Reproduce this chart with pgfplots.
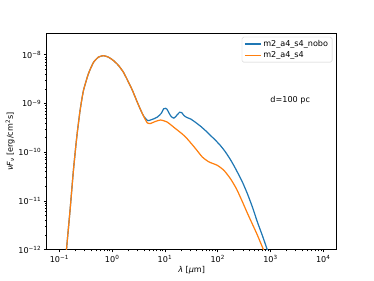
\documentclass[border=0pt]{standalone}
\usepackage{fontspec}
\setmainfont{DejaVu Sans}
\usepackage{pgfplots}
\pgfplotsset{compat=1.18}
\definecolor{mplblue}{HTML}{1F77B4}
\definecolor{mplorange}{HTML}{FF7F0E}
\begin{document}
\fontsize{10}{12}\selectfont
\begin{tikzpicture}
\begin{axis}[
  at={(0,0)}, anchor=south west,
  scale only axis, width=4.96in, height=3.696in,
  xmode=log, ymode=log,
  xmin=0.0577, xmax=17950,
  ymin=1e-12, ymax=2.7e-8,
  axis line style={line width=0.8pt},
  tick align=outside, tick pos=left,
  major tick length=3.5pt, minor tick length=2pt,
  every tick/.style={black, line width=0.8pt},
  minor tick style={line width=0.6pt},
  xtick={0.1,1,10,100,1000,10000},
  xticklabels={10\textsuperscript{−1},10\textsuperscript{0},10\textsuperscript{1},10\textsuperscript{2},10\textsuperscript{3},10\textsuperscript{4}},
  ytick={1e-12,1e-11,1e-10,1e-9,1e-8},
  yticklabels={10\textsuperscript{−12},10\textsuperscript{−11},10\textsuperscript{−10},10\textsuperscript{−9},10\textsuperscript{−8}},
  ticklabel style={font=\fontsize{10}{12}\selectfont},
  xlabel={\textit{λ} [\textit{μ}m]},
  ylabel={\textit{νF}\textsubscript{\textit{ν}} [erg/cm\textsuperscript{2}s]},
  label style={font=\fontsize{10}{12}\selectfont},
  xlabel style={yshift=2pt},
  ylabel style={yshift=-2pt},
  legend style={at={(0.985,0.985)}, anchor=north east, draw=black!20, rounded corners=2pt,
    font=\fontsize{10}{12}\selectfont, inner xsep=3pt, inner ysep=2pt, row sep=1pt},
  legend cell align=left,
  legend image code/.code={\draw[#1, line width=1.5pt] (0cm,0cm) -- (0.7cm,0cm);},
  clip=true,
]
\addplot[mplblue, line width=1.5pt, smooth, tension=0.35] coordinates {
(0.1318,5.0e-13) (0.1365,1.0e-12) (0.1596,6.46e-12) (0.1849,4.27e-11) (0.2138,2.04e-10)
(0.2466,7.08e-10) (0.2858,1.82e-9) (0.3556,4.07e-9) (0.4426,6.92e-9) (0.5495,8.91e-9)
(0.684,9.55e-9) (0.851,8.91e-9) (1.059,7.59e-9) (1.318,6.03e-9) (1.637,4.37e-9)
(1.995,2.88e-9) (2.399,1.905e-9) (3.013,1.047e-9) (3.631,6.61e-10) (4.018,5.37e-10)
(4.656,4.47e-10) (5.012,4.47e-10) (6.026,4.79e-10) (7.211,5.25e-10) (8.590,6.31e-10)
(9.441,7.76e-10) (10.35,7.94e-10) (10.96,7.59e-10) (12.02,6.31e-10) (13.18,5.37e-10)
(14.79,5.0e-10) (16.60,5.62e-10) (19.05,6.61e-10) (20.89,6.46e-10) (23.01,5.62e-10)
(26.30,5.13e-10) (30.83,4.79e-10) (38.28,4.07e-10) (47.64,3.39e-10) (59.29,2.75e-10)
(73.6,2.19e-10) (91.6,1.74e-10) (114.0,1.35e-10) (141.3,1.0e-10) (176.2,6.92e-11)
(218.8,4.57e-11) (293.8,2.45e-11) (365.6,1.41e-11) (457.1,7.41e-12) (564.9,3.72e-12)
(707.9,1.91e-12) (871,1.0e-12) (955,7.4e-13)
};
\addlegendentry{m2\_a4\_s4\_nobo}
\addplot[mplorange, line width=1.5pt, smooth, tension=0.35] coordinates {
(0.1318,5.0e-13) (0.1365,1.0e-12) (0.1596,6.46e-12) (0.1849,4.27e-11) (0.2138,2.04e-10)
(0.2466,7.08e-10) (0.2858,1.82e-9) (0.3556,4.07e-9) (0.4426,6.92e-9) (0.5495,8.91e-9)
(0.684,9.55e-9) (0.851,8.91e-9) (1.059,7.59e-9) (1.318,6.03e-9) (1.637,4.37e-9)
(1.995,2.88e-9) (2.399,1.905e-9) (3.013,1.047e-9) (3.631,6.61e-10) (4.018,5.25e-10)
(4.656,3.98e-10) (5.383,3.89e-10) (6.607,4.27e-10) (8.318,4.57e-10) (11.14,4.12e-10)
(16.03,3.02e-10) (19.95,2.51e-10) (24.77,2.04e-10) (30.90,1.55e-10) (38.28,1.175e-10)
(51.29,7.94e-11) (68.39,6.31e-11) (98.6,5.37e-11) (131.8,4.22e-11) (176.2,2.82e-11)
(229.1,1.74e-11) (295.1,9.55e-12) (365.6,5.62e-12) (457.1,3.31e-12) (564.9,2.0e-12)
(645.7,1.41e-12) (724.4,1.05e-12) (794,7.9e-13)
};
\addlegendentry{m2\_a4\_s4}
\node[font=\fontsize{10}{12}\selectfont] at (rel axis cs:0.84,0.69) {d=100 pc};
\end{axis}
\path (-0.8in,-0.528in) rectangle (5.6in,4.272in);
\end{tikzpicture}
\end{document}
